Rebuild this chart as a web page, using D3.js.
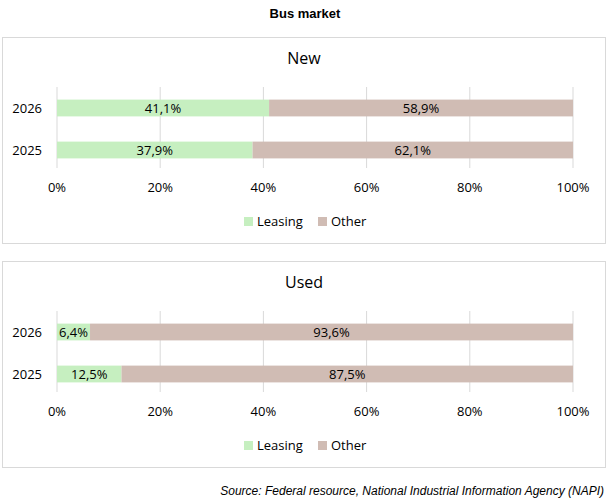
<!DOCTYPE html>
<html><head><meta charset="utf-8">
<script src="https://cdn.jsdelivr.net/npm/d3@7"></script>
<style>body{margin:0;background:#fff}</style>
</head><body>
<script>
var years = ["2026", "2025"];
var newLeasing = [41.1, 37.9];
var usedLeasing = [6.4, 12.5];
var ticks = [0, 20, 40, 60, 80, 100];
var panels = [
  {title: "New", leasing: newLeasing, top: 37},
  {title: "Used", leasing: usedLeasing, top: 261}
];

var width = 614, height = 503;
var svg = d3.select("body").append("svg").attr("width", width).attr("height", height);
var font = "'Open Sans', 'Noto Sans', sans-serif";
var fmt = function(v) { return v.toFixed(1).replace(".", ",") + "%"; };

svg.append("text").attr("x", 305).attr("y", 18).attr("text-anchor", "middle")
  .style("font", "bold 13px 'Liberation Sans', Arial").text("Bus market");

var x = d3.scaleLinear().domain([0, 100]).range([57, 573]);

panels.forEach(function(p) {
  var g = svg.append("g").attr("transform", "translate(0," + p.top + ")");
  g.append("rect").attr("x", 2.5).attr("y", 0.5).attr("width", 603).attr("height", 206)
    .attr("fill", "#fff").attr("stroke", "#d9d9d9");
  g.append("text").attr("x", 304).attr("y", 27).attr("text-anchor", "middle")
    .style("font-family", font).style("font-size", "16px").text(p.title);

  var y = d3.scaleBand().domain(years).range([50, 134]).paddingInner(0.6).paddingOuter(0.3);

  g.selectAll(".grid").data(ticks).enter().append("line")
    .attr("x1", x).attr("x2", x).attr("y1", 50).attr("y2", 131)
    .attr("stroke", "#d9d9d9");
  g.selectAll(".tick").data(ticks).enter().append("text")
    .attr("x", x).attr("y", 155).attr("text-anchor", "middle")
    .style("font-family", font).style("font-size", "13px").text(function(d) { return d + "%"; });

  years.forEach(function(yr, i) {
    var l = p.leasing[i], o = +(100 - l).toFixed(1);
    var yy = y(yr), h = y.bandwidth();
    g.append("rect").attr("x", x(0)).attr("y", yy).attr("width", x(l) - x(0)).attr("height", h).attr("fill", "#c6efc0");
    g.append("rect").attr("x", x(l)).attr("y", yy).attr("width", x(100) - x(l)).attr("height", h).attr("fill", "#d0bcb4");
    g.append("text").attr("x", (x(0) + x(l)) / 2).attr("y", yy + h / 2 + 5).attr("text-anchor", "middle")
      .style("font-family", font).style("font-size", "13px").text(fmt(l));
    g.append("text").attr("x", (x(l) + x(100)) / 2).attr("y", yy + h / 2 + 5).attr("text-anchor", "middle")
      .style("font-family", font).style("font-size", "13px").text(fmt(o));
    g.append("text").attr("x", 42).attr("y", yy + h / 2 + 5).attr("text-anchor", "end")
      .style("font-family", font).style("font-size", "13px").text(yr);
  });

  var leg = [{n: "Leasing", c: "#c6efc0", x: 244}, {n: "Other", c: "#d0bcb4", x: 318}];
  leg.forEach(function(d) {
    g.append("rect").attr("x", d.x).attr("y", 180).attr("width", 9).attr("height", 9).attr("fill", d.c);
    g.append("text").attr("x", d.x + 13).attr("y", 189)
      .style("font-family", font).style("font-size", "13px").text(d.n);
  });
});

svg.append("text").attr("x", 604).attr("y", 495).attr("text-anchor", "end")
  .style("font", "italic 12px 'Liberation Sans', Arial")
  .text("Source: Federal resource, National Industrial Information Agency (NAPI)");
</script>
</body></html>
